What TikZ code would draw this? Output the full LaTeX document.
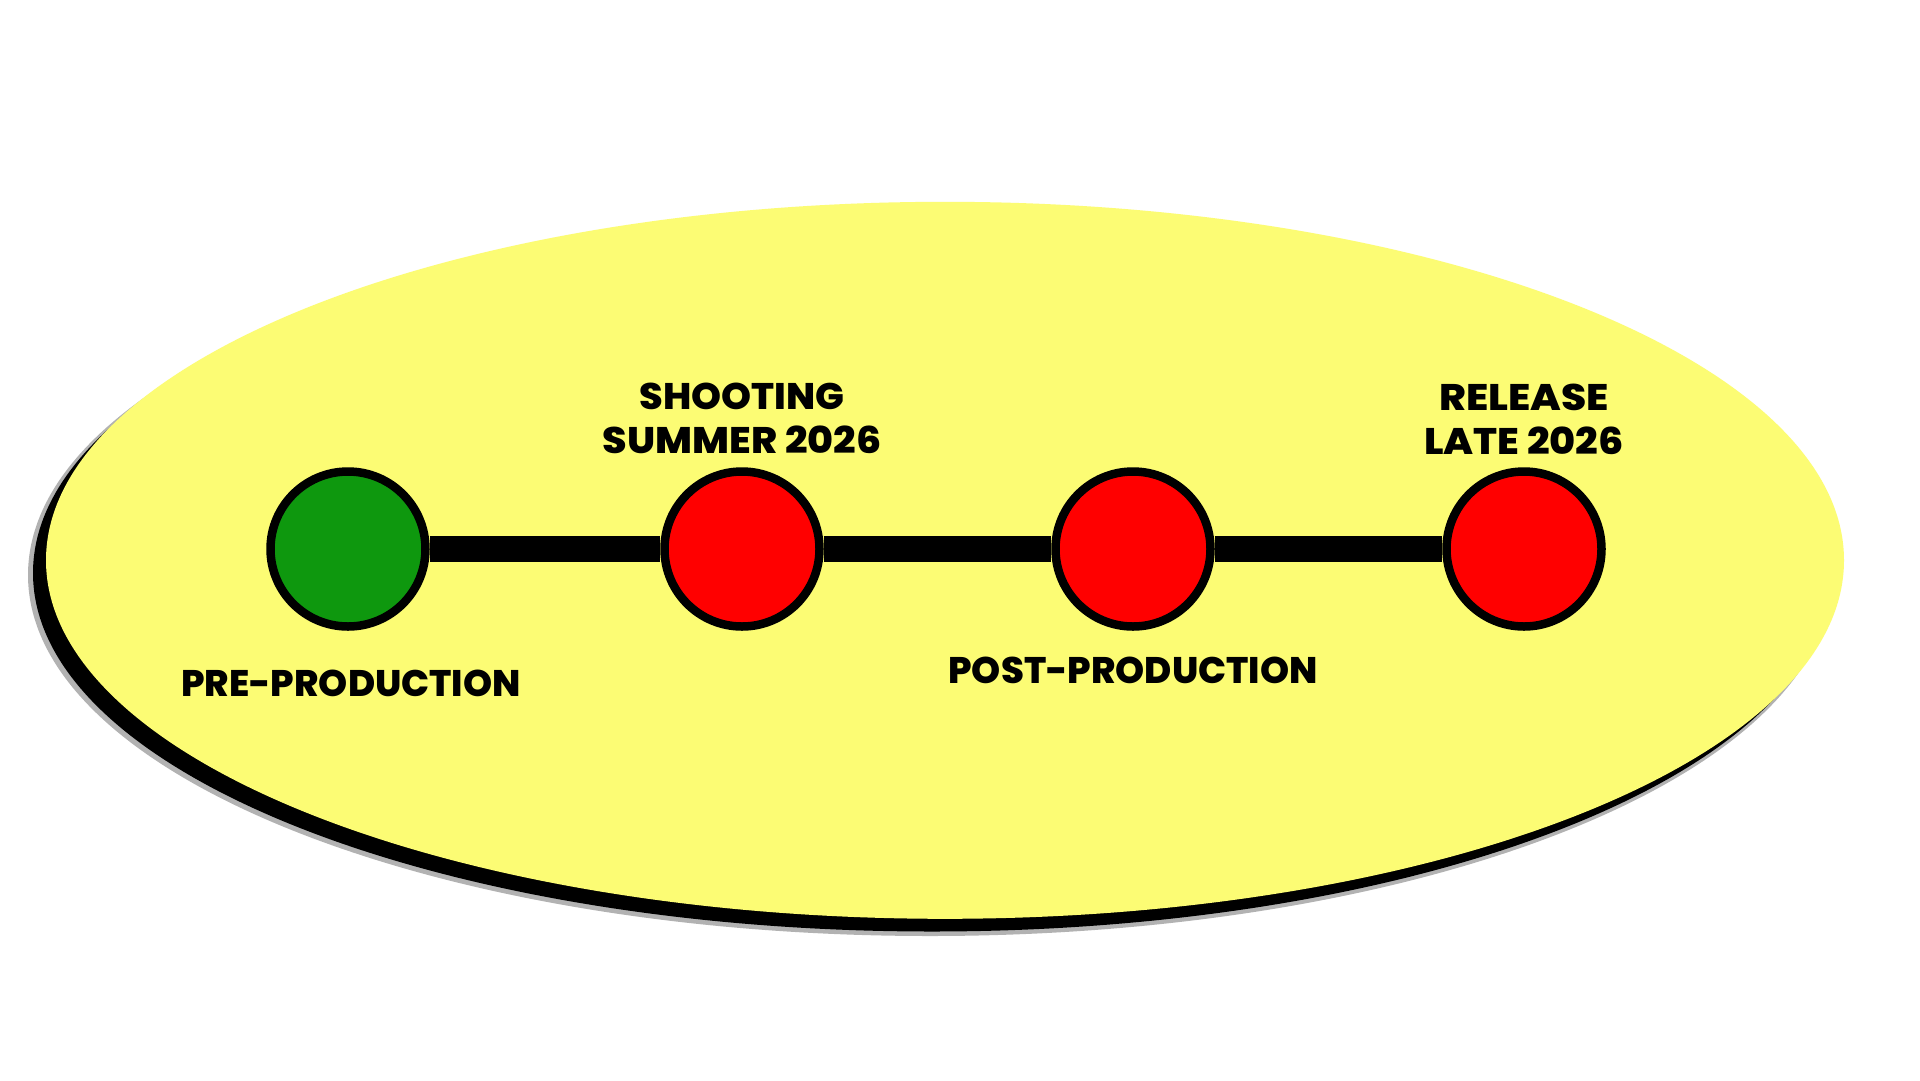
\documentclass[tikz,border=0pt]{standalone}
\usepackage{fontspec}
\newfontfamily\popfont{Poppins ExtraBold}
\definecolor{ovalyellow}{RGB}{252,252,116}
\definecolor{stagered}{RGB}{255,0,0}
\definecolor{stagegreen}{RGB}{14,152,14}
\newcommand{\wide}[2]{\scalebox{#1}[1]{#2}}
\tikzset{
  stage/.style={circle, draw=black, line width=8.5pt, minimum size=155pt, inner sep=0pt},
  lbl/.style={font=\popfont\fontsize{37}{43.5}\selectfont, text=black, align=center, inner sep=0pt},
  link/.style={line width=26pt, black}
}
\begin{document}
\begin{tikzpicture}[x=1pt,y=-1pt]
\useasboundingbox (0,0) rectangle (1920,1080);
\fill[white] (0,0) rectangle (1920,1080);
% shadow
\fill[black, opacity=0.3] (930,575) ellipse [x radius=902, y radius=361];
\fill[black] (932,573) ellipse [x radius=899, y radius=358.5];
% oval
\fill[ovalyellow] (945,560.3) ellipse [x radius=899, y radius=358.5];
% stages
\node[stage, fill=stagegreen] (pre) at (348,549) {};
\node[stage, fill=stagered] (shoot) at (742,549) {};
\node[stage, fill=stagered] (post) at (1133,549) {};
\node[stage, fill=stagered] (rel) at (1524,549) {};
\draw[link] (pre.east) -- (shoot.west);
\draw[link] (shoot.east) -- (post.west);
\draw[link] (post.east) -- (rel.west);
% labels
\node[lbl] (preL) at (351,683) {PRE-PRODUCTION};
\node[lbl] (shootL) at (742,418.5) {\wide{1.03}{SHOOTING}\\\wide{1.07}{SUMMER 2026}};
\node[lbl] (postL) at (1133,670) {POST-PRODUCTION};
\node[lbl] (relL) at (1524,419.5) {\wide{1.1}{RELEASE}\\\wide{1.075}{LATE 2026}};
\end{tikzpicture}
\end{document}
